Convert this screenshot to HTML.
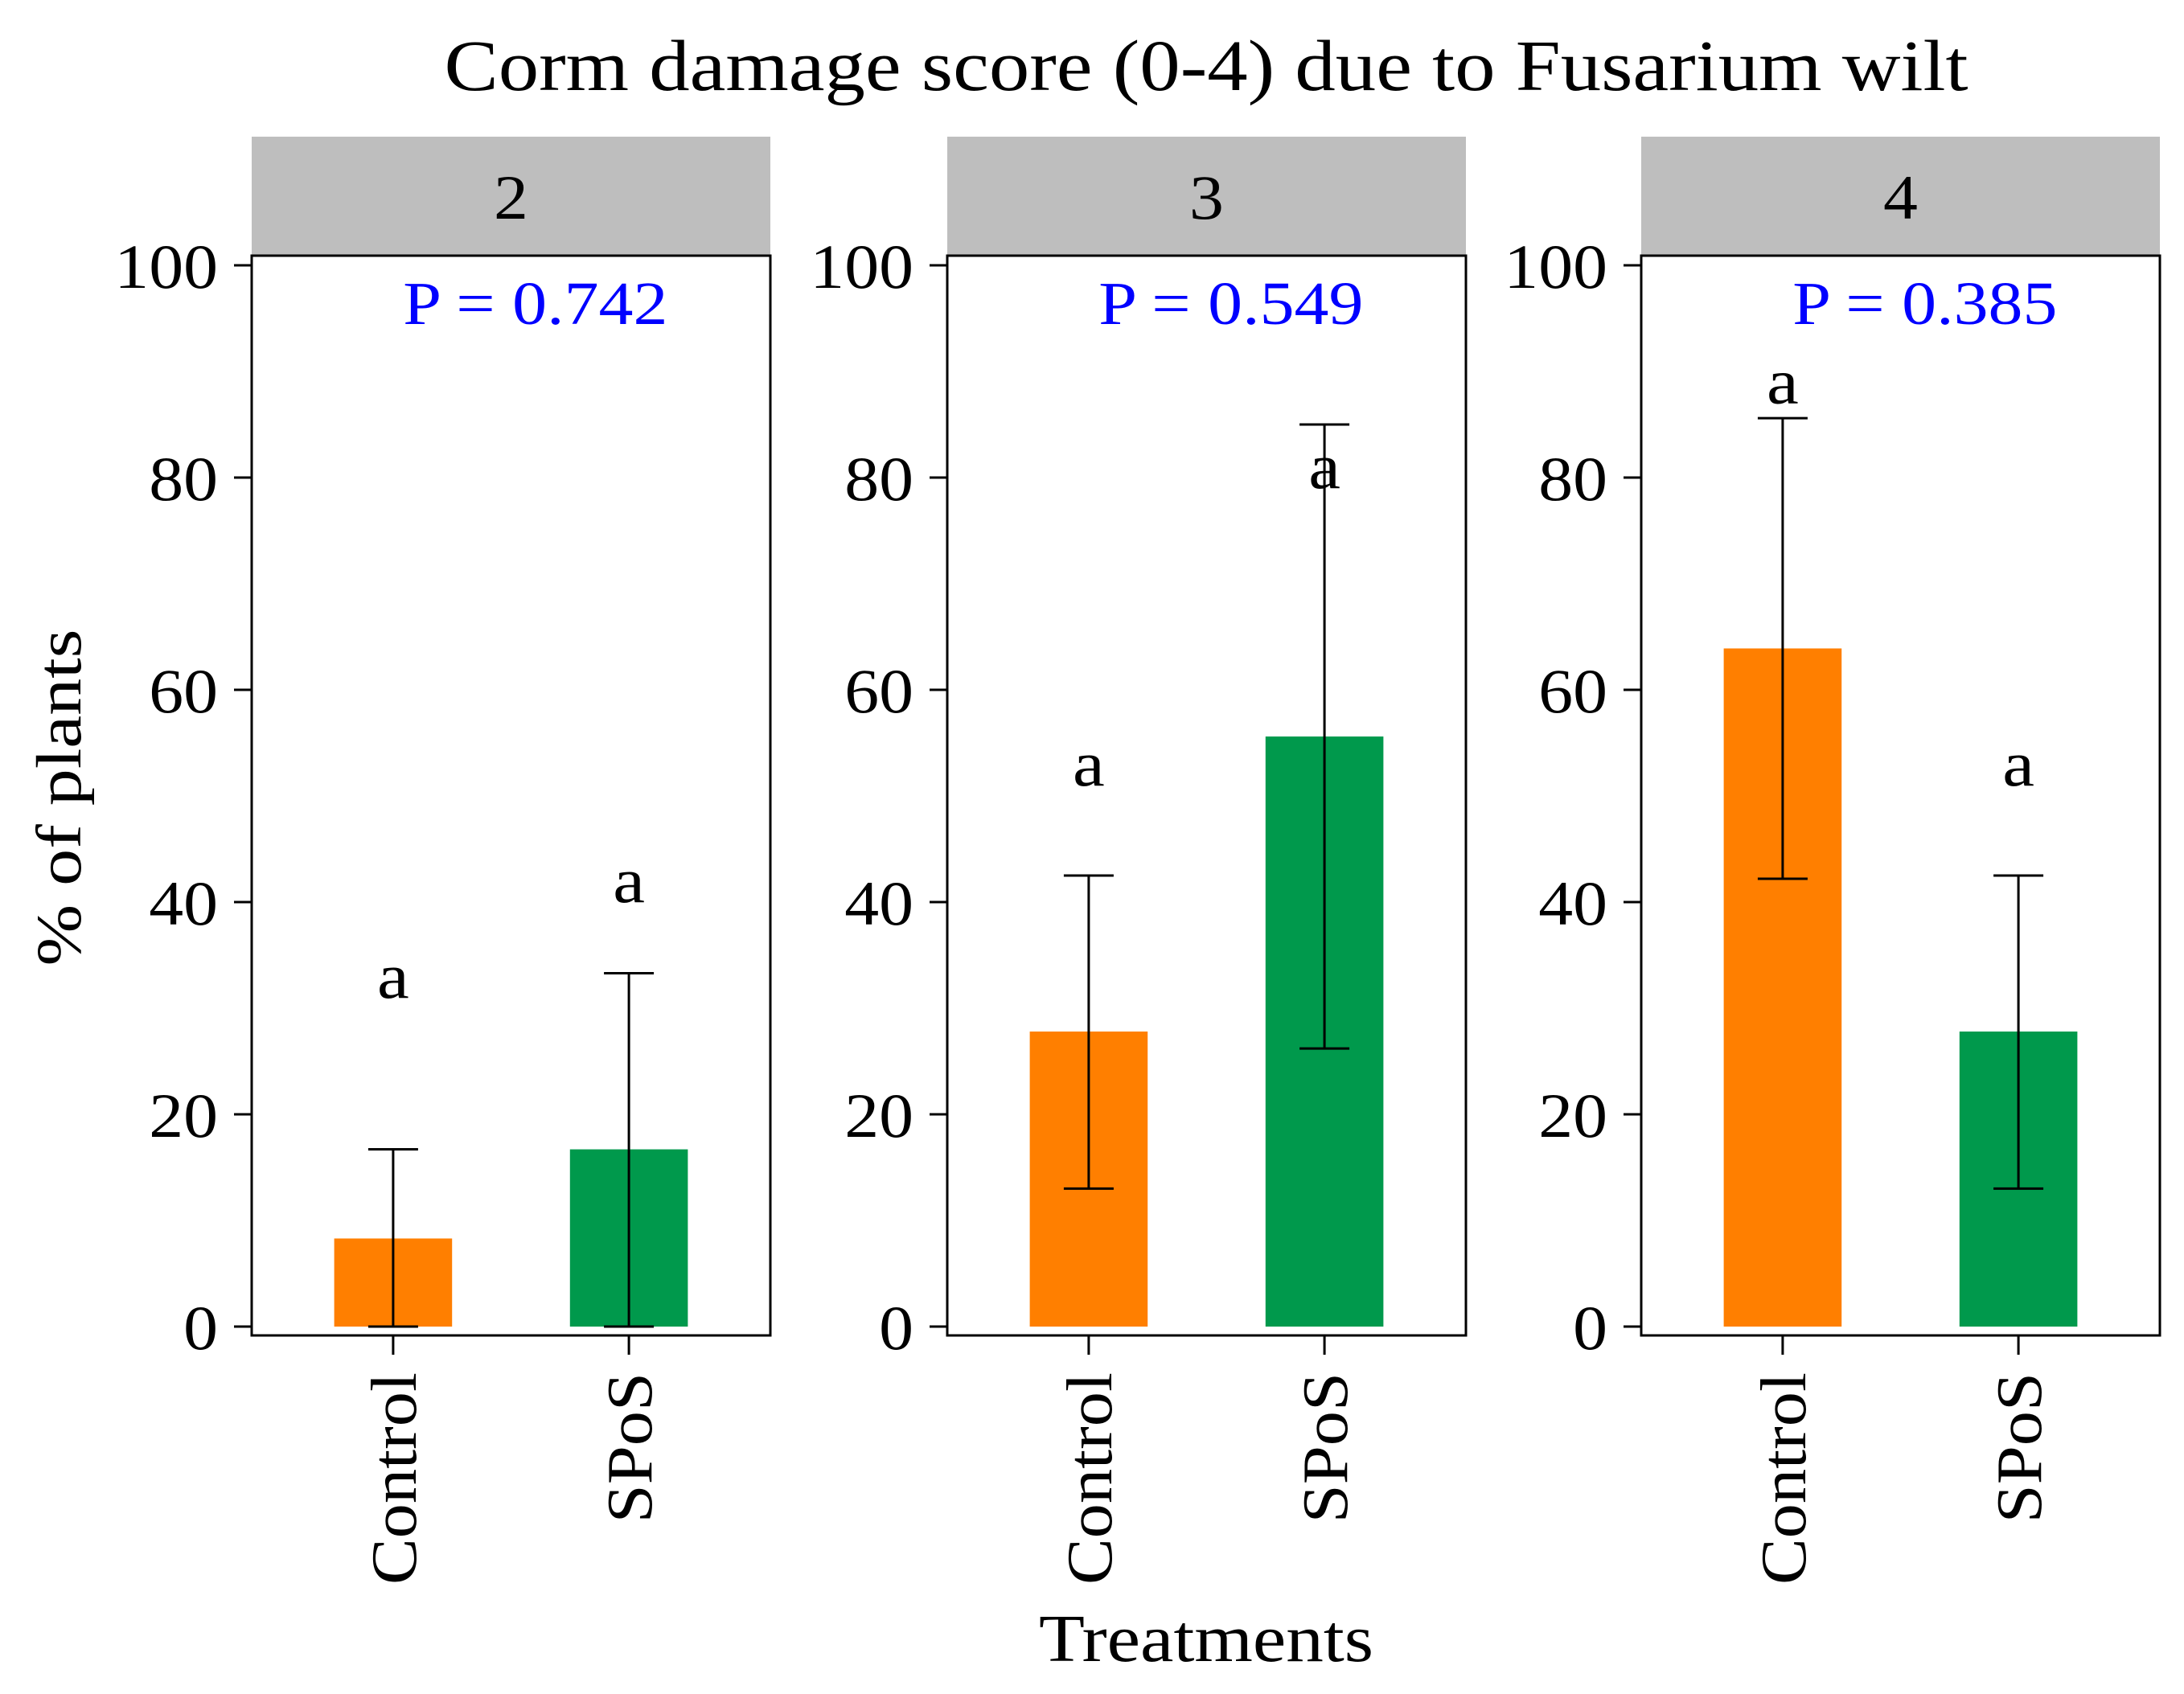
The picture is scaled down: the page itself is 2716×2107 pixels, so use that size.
<!DOCTYPE html>
<html><head><meta charset="utf-8"><style>
html,body{margin:0;padding:0;background:#fff}
svg{display:block}
text{font-family:"Liberation Serif",serif}
</style></head><body>
<svg id="chart" width="2716" height="2107" viewBox="0 0 2716 2107" xmlns="http://www.w3.org/2000/svg">
<text transform="translate(1500,112) scale(1.12,1)" font-size="90" text-anchor="middle">Corm damage score (0-4) due to Fusarium wilt</text>
<text transform="translate(100,992) rotate(-90) scale(1.15,1)" font-size="80" text-anchor="middle">% of plants</text>
<text transform="translate(1500,2066) scale(1.11,1)" font-size="84" text-anchor="middle">Treatments</text>
<g id="panels"></g>
</svg>
<script>
const facets = ["2", "3", "4"];
const categories = ["Control", "SPoS"];
const pValues = ["P = 0.742", "P = 0.549", "P = 0.385"];
const controlMeans = [8.3, 27.8, 63.9];
const controlLow = [0, 13.0, 42.2];
const controlHigh = [16.7, 42.5, 85.6];
const sposMeans = [16.7, 55.6, 27.8];
const sposLow = [0, 26.2, 13.0];
const sposHigh = [33.3, 85.0, 42.5];
const controlLetterY = [31, 51, 87];
const sposLetterY = [40, 79, 51];
const letters = ["a", "a"];
const yTicks = [0, 20, 40, 60, 80, 100];

const NS = "http://www.w3.org/2000/svg";
const panelLeft = [313, 1178, 2041];
const panelW = 645;
const plotTop = 318, plotBottom = 1661, stripTop = 170;
const y0px = 1650, y100px = 330;
const colors = ["#FF7F00", "#00994C"];
function yScale(v){ return y0px + (y100px - y0px) * v / 100; }
function xScale(p, i){ return panelLeft[p] + panelW * (0.6 + i) / 2.2; }
const barW = panelW * 0.5 / 2.2;
const root = document.getElementById("panels");
function mk(tag, attrs, parent){
  const e = document.createElementNS(NS, tag);
  for (const k in attrs) e.setAttribute(k, attrs[k]);
  (parent || root).appendChild(e);
  return e;
}
function tx(x, y, extra){ return "translate(" + x + "," + y + ")" + (extra || "") ; }
facets.forEach((f, p) => {
  const g = mk("g", {});
  
  
  const L = panelLeft[p], R = L + panelW;
  const strip = mk("rect", {x: L, y: stripTop, width: panelW, height: plotTop - stripTop, fill: "#BEBEBE"}, g);
  
  
  const st = mk("text", {transform: tx((L + R) / 2, 272, " scale(1.1,1)"), "font-size": 78, "text-anchor": "middle"}, g);
  st.textContent = f;
  
  
  const frame = mk("rect", {x: L, y: plotTop, width: panelW, height: plotBottom - plotTop, fill: "#fff", stroke: "#000", "stroke-width": 3}, g);
  
  
  yTicks.forEach(t => {
    const y = yScale(t);
    const tk = mk("line", {x1: L - 22, x2: L, y1: y, y2: y, stroke: "#000", "stroke-width": 3}, g);
    
    
    const tl = mk("text", {transform: tx(L - 42, y + 28, " scale(1.1,1)"), "font-size": 78, "text-anchor": "end"}, g);
    tl.textContent = t;
    
    
  });
  const means = [controlMeans[p], sposMeans[p]];
  const lows = [controlLow[p], sposLow[p]];
  const highs = [controlHigh[p], sposHigh[p]];
  const lys = [controlLetterY[p], sposLetterY[p]];
  categories.forEach((c, i) => {
    const cx = xScale(p, i);
    const bar = mk("rect", {x: cx - barW / 2, y: yScale(means[i]), width: barW, height: yScale(0) - yScale(means[i]), fill: colors[i]}, g);
    
    
    const eb = mk("g", {stroke: "#000", "stroke-width": 3}, g);
    
    
    mk("line", {x1: cx, x2: cx, y1: yScale(lows[i]), y2: yScale(highs[i])}, eb);
    mk("line", {x1: cx - 31, x2: cx + 31, y1: yScale(lows[i]), y2: yScale(lows[i])}, eb);
    mk("line", {x1: cx - 31, x2: cx + 31, y1: yScale(highs[i]), y2: yScale(highs[i])}, eb);
    const lt = mk("text", {transform: tx(cx, yScale(lys[i]), " scale(1.12,1)"), "font-size": 80, "text-anchor": "middle"}, g);
    lt.textContent = letters[i];
    
    
    const xt = mk("line", {x1: cx, x2: cx, y1: plotBottom, y2: plotBottom + 24, stroke: "#000", "stroke-width": 3}, g);
    
    
    const xl = mk("text", {transform: tx(cx + 28, 1707, " rotate(-90) scale(1.08,1)"), "font-size": 80, "text-anchor": "end"}, g);
    xl.textContent = c;
    
    
  });
  const pt = mk("text", {transform: tx(L + panelW * 0.547, yScale(96.5) + 27, " scale(1.13,1)"), "font-size": 76, "text-anchor": "middle", fill: "#0000FF"}, g);
  pt.textContent = pValues[p];
  
  
});
</script>
</body></html>
